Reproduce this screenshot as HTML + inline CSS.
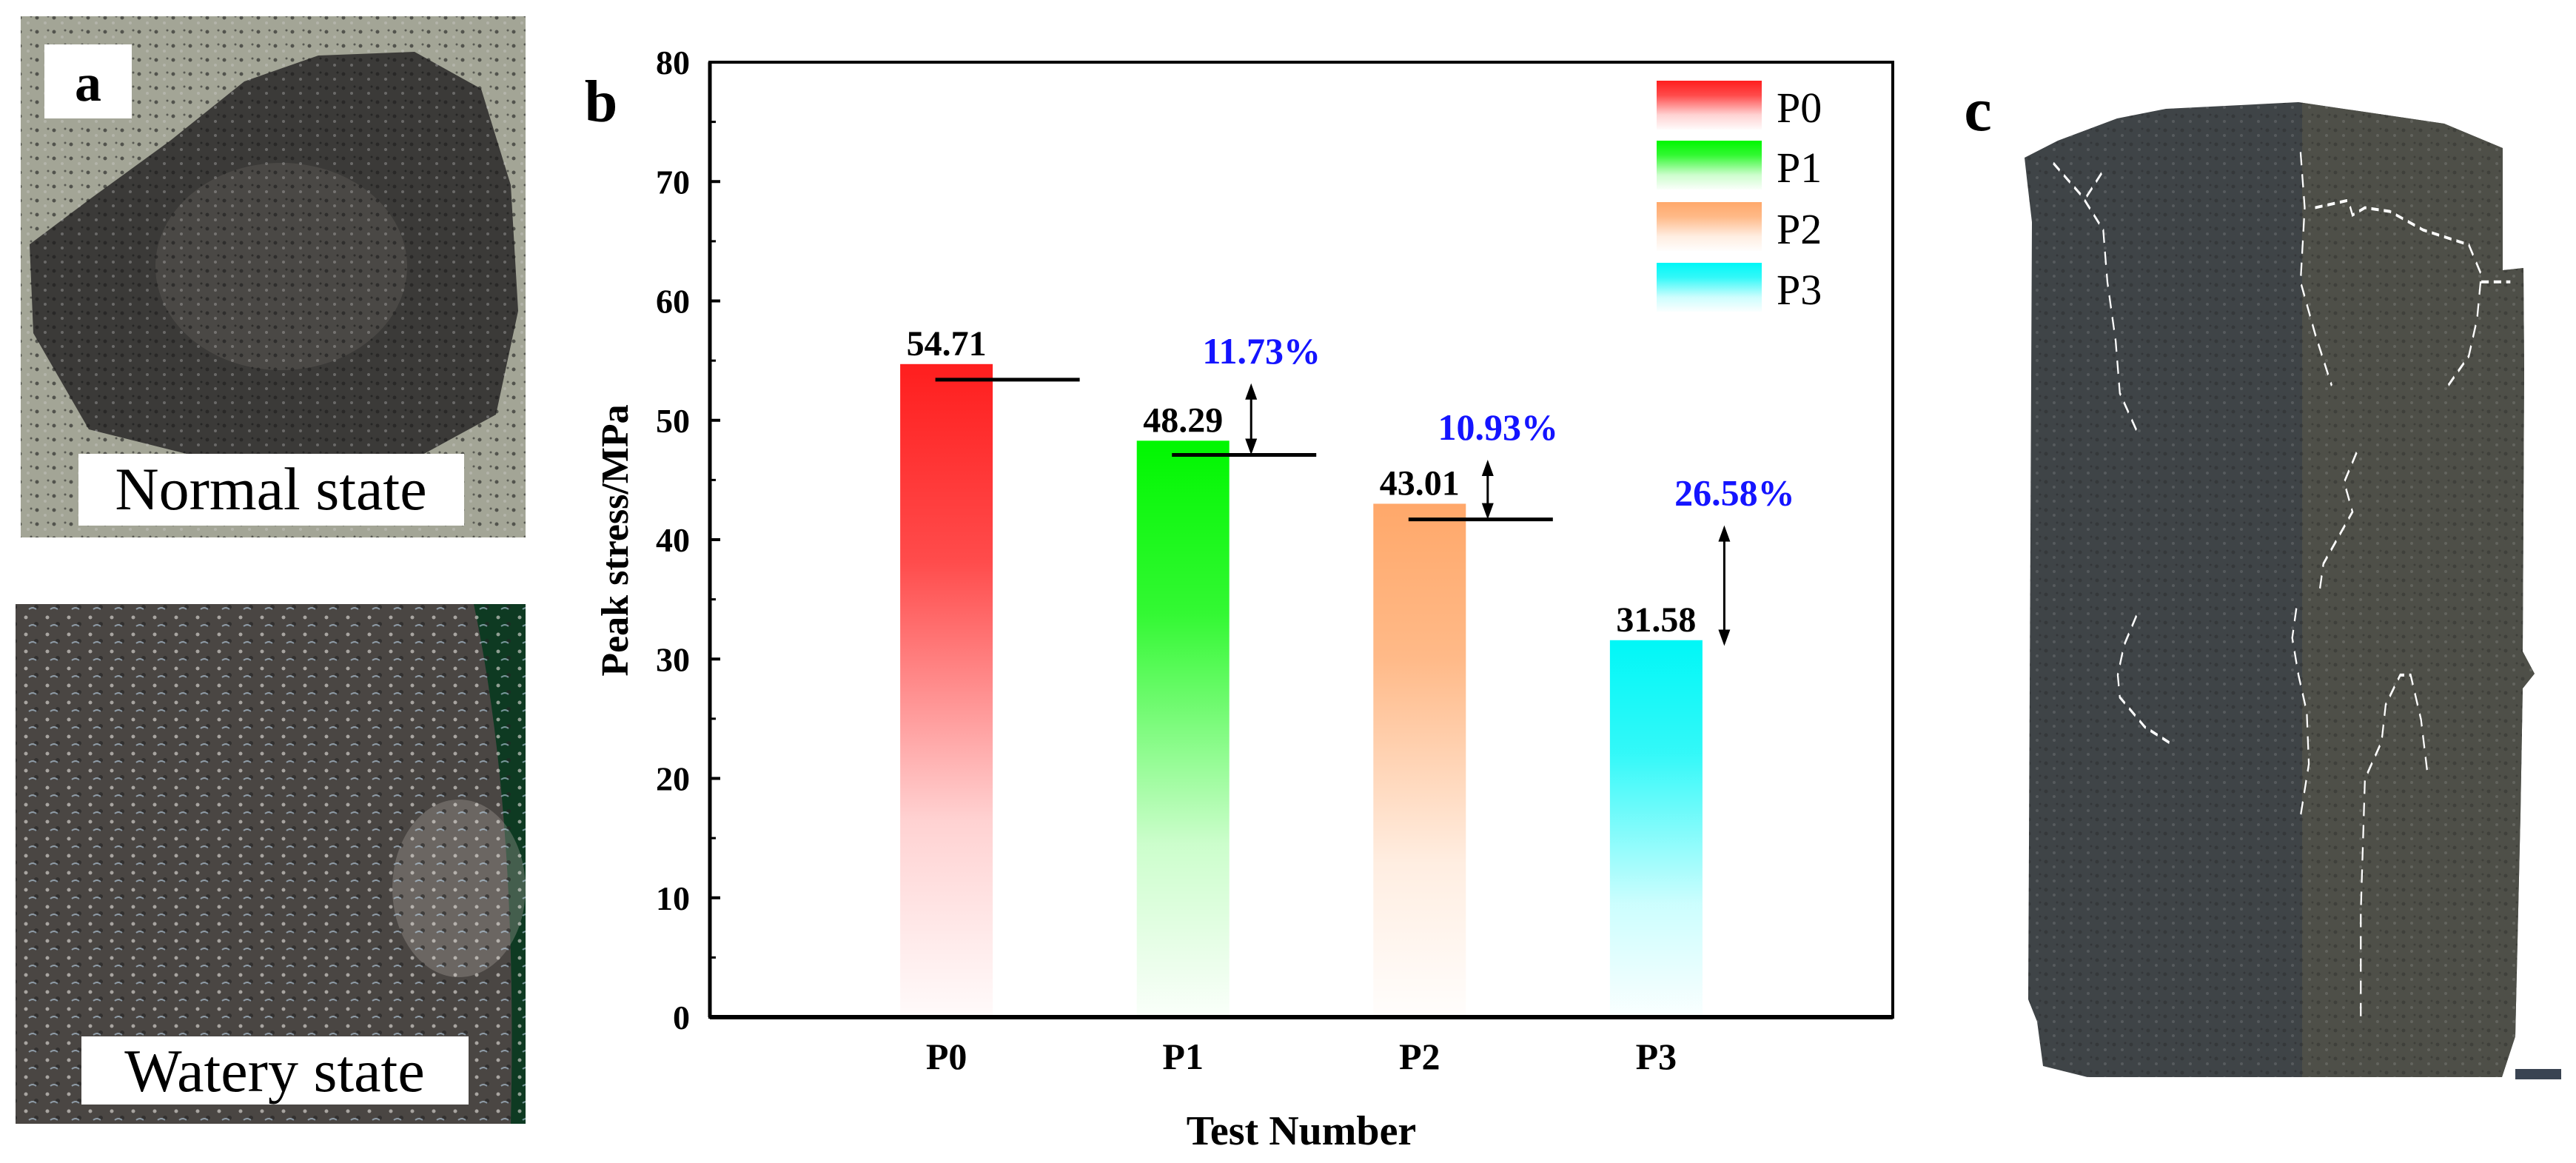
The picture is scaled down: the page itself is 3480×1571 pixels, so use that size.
<!DOCTYPE html>
<html>
<head>
<meta charset="utf-8">
<style>
html,body{margin:0;padding:0;background:#fff;}
svg{display:block;}
svg text{font-family:"Liberation Serif","Times New Roman",serif;}
</style>
</head>
<body>
<svg id="fig" width="3480" height="1571" viewBox="0 0 3480 1571" xmlns="http://www.w3.org/2000/svg" font-family="Liberation Serif, serif">
<defs>
  <pattern id="speck" width="23" height="19" patternUnits="userSpaceOnUse">
    <circle cx="4" cy="5" r="2.5" fill="#1c1c1c" opacity="0.6"/>
    <circle cx="15" cy="12" r="2" fill="#d8d8d8" opacity="0.3"/>
    <circle cx="19" cy="3" r="1.5" fill="#111" opacity="0.5"/>
  </pattern>
  <pattern id="wet" width="29" height="23" patternUnits="userSpaceOnUse">
    <circle cx="6" cy="6" r="2.5" fill="#e8e4e0" opacity="0.6"/>
    <circle cx="20" cy="15" r="3" fill="#222" opacity="0.6"/>
    <path d="M10 18 q5 -4 10 0" stroke="#bcd6ea" stroke-width="2" fill="none" opacity="0.6"/>
  </pattern>
  <clipPath id="clipA1"><rect x="28" y="22" width="682" height="704"/></clipPath>
  <clipPath id="clipA2"><rect x="21" y="816" width="689" height="702"/></clipPath>
  <clipPath id="clipC"><path d="M2735 213 L2780 190 L2860 160 L2926 147 L3105 138 L3302 167 L3381 200 L3381 365 L3409 362 L3410 500 L3408 880 L3424 910 L3408 930 L3405 1100 L3398 1400 L3380 1455 L2820 1455 L2760 1440 L2752 1380 L2740 1350 L2745 300 L2738 240 Z"/></clipPath>
</defs>

<!-- Panel a -->
<g>
  <g clip-path="url(#clipA1)">
  <rect x="28" y="22" width="682" height="704" fill="#a3a596"/>
  <path d="M40 330 L120 270 L230 190 L330 110 L430 75 L560 70 L650 120 L690 250 L700 420 L670 560 L560 620 L300 625 L120 580 L45 450 Z" fill="#3b3a38"/>
  <ellipse cx="380" cy="360" rx="170" ry="140" fill="#4f4c48" opacity="0.8"/>
  <rect x="28" y="22" width="682" height="704" fill="url(#speck)"/>
  </g>
  <rect x="60" y="60" width="118" height="100" fill="#fff"/>
  <text x="119" y="136" font-size="72" font-weight="bold" text-anchor="middle" font-family="Liberation Serif, serif">a</text>
  <rect x="106" y="613" width="521" height="97" fill="#fff"/>
  <text x="366" y="688" font-size="82" text-anchor="middle" font-family="Liberation Serif, serif">Normal  state</text>

  <g clip-path="url(#clipA2)">
  <rect x="21" y="816" width="689" height="702" fill="#4a4643"/>
  <path d="M640 816 L710 816 L710 1518 L690 1518 Q700 1100 640 816 Z" fill="#0e3a22"/>
  <ellipse cx="620" cy="1200" rx="90" ry="120" fill="#a8a29e" opacity="0.35"/>
  <rect x="21" y="816" width="689" height="702" fill="url(#wet)"/>
  </g>
  <rect x="110" y="1400" width="523" height="92" fill="#fff"/>
  <text x="371" y="1474" font-size="82" text-anchor="middle" font-family="Liberation Serif, serif">Watery  state</text>
</g>

<!-- Panel b chart -->
<g id="chart">
  <text x="812" y="164" font-size="80" font-weight="bold" text-anchor="middle" font-family="Liberation Serif, serif">b</text>
  <g id="bars"></g>
  <g id="refs"></g>
  <g id="axes"></g>
  <g id="legend"></g>
  <text x="0" y="0" transform="translate(848,730) rotate(-90)" font-size="52" font-weight="bold" text-anchor="middle" font-family="Liberation Serif, serif">Peak stress/MPa</text>
  <text x="1758" y="1546" font-size="56" font-weight="bold" text-anchor="middle" font-family="Liberation Serif, serif">Test Number</text>
</g>

<!-- Panel c -->
<g>
  <text x="2672" y="176" font-size="84" font-weight="bold" text-anchor="middle" font-family="Liberation Serif, serif">c</text>
  <g clip-path="url(#clipC)">
    <rect x="2720" y="130" width="720" height="1340" fill="#3f4447"/>
    <rect x="3110" y="130" width="330" height="1340" fill="#525249" opacity="0.8"/>
    <rect x="2720" y="130" width="720" height="1340" fill="url(#speck)" opacity="0.5"/>
  </g>
  <rect x="3398" y="1444" width="62" height="14" fill="#3a4452"/>
  <g fill="none" stroke="#fff" stroke-width="4" stroke-dasharray="18 12" transform="translate(2600,0) scale(0.5612,1.002)">
    <polyline points="310,220 380,265 430,310 440,380 460,460 470,530 510,580"/>
    <polyline points="390,265 430,230"/>
    <polyline points="905,205 915,280 905,380 940,450 980,520"/>
    <polyline points="940,280 1020,270 1030,290 1060,280 1120,285 1200,310 1310,330 1340,370 1330,430 1310,480 1260,520"/>
    <polyline points="1340,380 1410,380"/>
    <polyline points="1040,610 1010,650 1030,690 1000,720 960,760 950,800"/>
    <polyline points="510,830 480,870 465,910 470,940 530,980 600,1005"/>
    <polyline points="895,820 885,860 900,910 920,960 925,1030 905,1100"/>
    <polyline points="1050,1370 1050,1230 1060,1050 1100,1000 1110,950 1145,910 1170,910 1195,970 1210,1040"/>
  </g>
</g>

<script>
const categories = ['P0','P1','P2','P3'];
const peakStress = [54.71, 48.29, 43.01, 31.58];
const valueLabels = ['54.71','48.29','43.01','31.58'];
const refLevels = [53.4, 47.1, 41.7];
const dropLabels = ['11.73%','10.93%','26.58%'];
const dropFrom = [53.1, 46.7, 41.2];
const dropTo = [47.1, 41.7, 31.1];
const yTicks = [0,10,20,30,40,50,60,70,80];
const colors = ['#ff1e1e','#00f700','#ffa86a','#00f7f7'];

const NS = 'http://www.w3.org/2000/svg';
const FF = 'Liberation Serif, serif';
const L = 959, R = 2557, T = 84, B = 1374;
const yMax = 80, nSlots = 5;
const ys = v => B - v / yMax * (B - T);
const xs = i => L + (i + 1) * (R - L) / nSlots;
const bw = 125;

function mk(tag, attrs, parent) {
  const e = document.createElementNS(NS, tag);
  for (const k in attrs) e.setAttribute(k, attrs[k]);
  if (tag === 'text') e.setAttribute('font-family', FF);
  parent.appendChild(e);
  return e;
}
const defs = document.querySelector('defs');
colors.forEach((c, i) => {
  const g = mk('linearGradient', {id: 'grad' + i, x1: 0, y1: 0, x2: 0, y2: 1}, defs);
  mk('stop', {offset: '0', 'stop-color': c, 'stop-opacity': 1}, g);
  mk('stop', {offset: '0.3', 'stop-color': c, 'stop-opacity': 0.8}, g);
  mk('stop', {offset: '0.7', 'stop-color': c, 'stop-opacity': 0.2}, g);
  mk('stop', {offset: '1', 'stop-color': c, 'stop-opacity': 0.02}, g);
});

const bars = document.getElementById('bars');
peakStress.forEach((v, i) => {
  const r = mk('rect', {x: xs(i) - bw / 2, y: ys(v), width: bw, height: B - ys(v), fill: 'url(#grad' + i + ')'}, bars);
  
  
  const t = mk('text', {x: xs(i), y: ys(v) - 12, 'font-size': 48, 'font-weight': 'bold', 'text-anchor': 'middle'}, bars);
  t.textContent = valueLabels[i];
  
  
});

const refs = document.getElementById('refs');
refLevels.forEach((v, i) => {
  const ln = mk('line', {x1: xs(i) - 15, x2: xs(i) + 180, y1: ys(v), y2: ys(v), stroke: '#000', 'stroke-width': 5}, refs);
  
  
});
dropLabels.forEach((lab, i) => {
  const ax = xs(i + 1) + 92;
  const y1 = ys(dropFrom[i]), y2 = ys(dropTo[i]);
  const a = mk('g', {}, refs);
  
  
  mk('line', {x1: ax, x2: ax, y1: y1 + 14, y2: y2 - 14, stroke: '#000', 'stroke-width': 3}, a);
  mk('polygon', {points: `${ax},${y1} ${ax - 8},${y1 + 22} ${ax + 8},${y1 + 22}`, fill: '#000'}, a);
  mk('polygon', {points: `${ax},${y2} ${ax - 8},${y2 - 22} ${ax + 8},${y2 - 22}`, fill: '#000'}, a);
  const t = mk('text', {x: ax + 14, y: y1 - 27, 'font-size': 50, 'font-weight': 'bold', 'text-anchor': 'middle', fill: '#1414ff'}, refs);
  t.textContent = lab;
  
  
});

const axes = document.getElementById('axes');
const frame = mk('rect', {x: L, y: T, width: R - L, height: B - T, fill: 'none', stroke: '#000', 'stroke-width': 4}, axes);


mk('line', {x1: L, x2: R, y1: B, y2: B, stroke: '#000', 'stroke-width': 6}, axes);
mk('line', {x1: L, x2: L, y1: T, y2: B, stroke: '#000', 'stroke-width': 5}, axes);
yTicks.forEach((v, i) => {
  mk('line', {x1: L, x2: L + 14, y1: ys(v), y2: ys(v), stroke: '#000', 'stroke-width': 4}, axes);
  if (i < yTicks.length - 1) mk('line', {x1: L, x2: L + 8, y1: ys(v + 5), y2: ys(v + 5), stroke: '#000', 'stroke-width': 3}, axes);
  const t = mk('text', {x: 932, y: ys(v) + 16, 'font-size': 46, 'font-weight': 'bold', 'text-anchor': 'end'}, axes);
  t.textContent = v;
  
  
});
categories.forEach((c, i) => {
  const t = mk('text', {x: xs(i), y: 1444, 'font-size': 50, 'font-weight': 'bold', 'text-anchor': 'middle'}, axes);
  t.textContent = c;
  
  
});

const legend = document.getElementById('legend');
const lgTop = [109, 190, 273, 355];
categories.forEach((c, i) => {
  const g = mk('g', {}, legend);
  
  
  mk('rect', {x: 2238, y: lgTop[i], width: 142, height: 66, fill: 'url(#grad' + i + ')'}, g);
  const t = mk('text', {x: 2400, y: lgTop[i] + 56, 'font-size': 58}, g);
  t.textContent = c;
});
</script>
</svg>
</body>
</html>
